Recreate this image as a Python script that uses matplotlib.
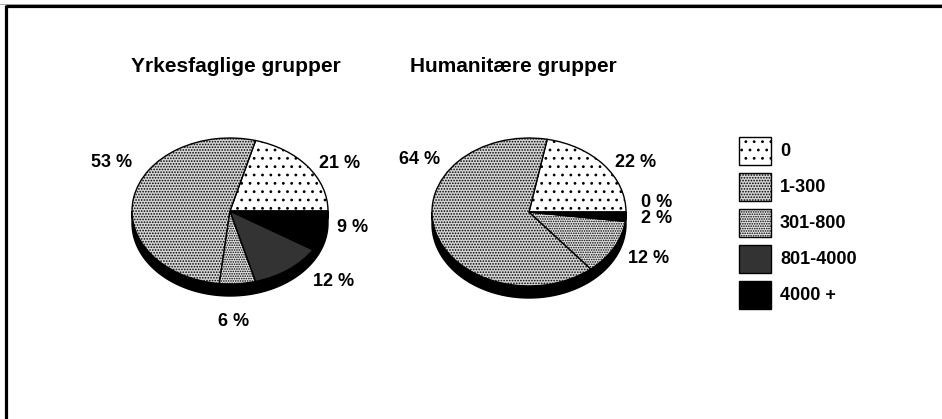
import numpy as np
import matplotlib
matplotlib.use('Agg')
import matplotlib.pyplot as plt
from matplotlib.patches import Polygon, Rectangle

W, H = 942, 419

categories = ['0', '1-300', '301-800', '801-4000', '4000 +']
yrkesfag = [21, 53, 6, 12, 9]
humanitaer = [22, 64, 12, 0, 2]
titles = ['Yrkesfaglige grupper', 'Humanitære grupper']

# fill + dot pattern per category
fills = ['white', '#d6d6d6', '#e6e6e6', '#333333', 'black']
hatches = ['..', '......', '.......', None, None]

plt.rcParams['font.family'] = ['Liberation Sans', 'DejaVu Sans']
plt.rcParams['font.weight'] = 'bold'
plt.rcParams['hatch.linewidth'] = 0.8

fig = plt.figure(figsize=(W / 100, H / 100), dpi=100)

# pixel-space overlay for frame, titles, labels and legend
bg = fig.add_axes([0, 0, 1, 1])
bg.set_xlim(0, W)
bg.set_ylim(H, 0)
bg.axis('off')
bg.plot([0, W], [4, 4], color='#aaaaaa', lw=0.7)
bg.plot([5.5, W], [6, 6], color='black', lw=2.3, solid_capstyle='butt')
bg.plot([5.5, 5.5], [5, H], color='black', lw=2.3, solid_capstyle='butt')


def pie3d(values, cx, cy, rx, ry, depth=12, span=1.6):
    ax = fig.add_axes([(cx - span * rx) / W, 1 - (cy + span * ry) / H,
                       2 * span * rx / W, 2 * span * ry / H])
    wedges, _ = ax.pie(values, startangle=0, counterclock=True, radius=1,
                       wedgeprops=dict(edgecolor='black', linewidth=1.0))
    for w, fc, h in zip(wedges, fills, hatches):
        w.set_facecolor(fc)
        if h:
            w.set_hatch(h)
    # side wall of the tilted disc
    d = depth / ry
    t = np.linspace(np.pi, 2 * np.pi, 200)
    side = np.concatenate([np.column_stack([np.cos(t), np.sin(t)]),
                           np.column_stack([np.cos(t[::-1]), np.sin(t[::-1]) - d])])
    ax.add_patch(Polygon(side, closed=True, facecolor='black',
                         edgecolor='black', lw=1, zorder=0))
    ax.set_aspect('auto')
    ax.set_xlim(-span, span)
    ax.set_ylim(-span, span)
    ax.axis('off')
    return ax


pie3d(yrkesfag, 230, 211, 98, 73)
pie3d(humanitaer, 529, 212, 97, 74)

bg.text(236, 67, titles[0], fontsize=15, ha='center', va='center')
bg.text(513, 67, titles[1], fontsize=15, ha='center', va='center')

# percentage labels (order follows categories)
pos_left = [(340, 163), (112, 162), (234, 321), (334, 281), (353, 227)]
pos_right = [(636, 162), (420, 159), (649, 258), (657, 202), (657, 218)]
for vals, pos in ((yrkesfag, pos_left), (humanitaer, pos_right)):
    for v, (x, y) in zip(vals, pos):
        bg.text(x, y, f'{v} %', fontsize=13, ha='center', va='center')

# legend
for i, (lab, fc, h) in enumerate(zip(categories, fills, hatches)):
    yc = 151 + i * 36
    bg.add_patch(Rectangle((739, yc - 14), 32, 28, facecolor=fc, hatch=h,
                           edgecolor='black', lw=1.0))
    bg.text(780, yc, lab, fontsize=13, ha='left', va='center')

fig.savefig('out.png', dpi=100)
